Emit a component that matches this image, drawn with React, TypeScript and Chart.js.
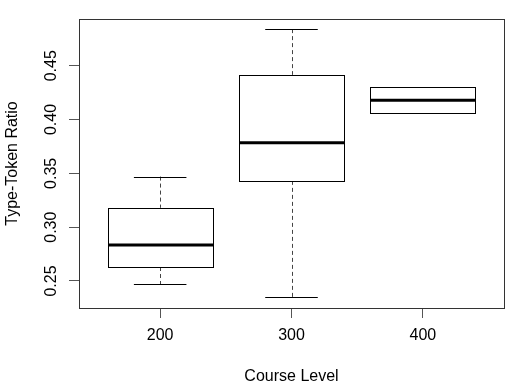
import React, { useEffect, useRef } from 'react';
import { Chart, registerables } from 'chart.js';

Chart.register(...registerables);

const categories = ['200', '300', '400'];
const whiskerLow = [0.247, 0.235, 0.406];
const q1 = [0.263, 0.343, 0.406];
const median = [0.2835, 0.3785, 0.418];
const q3 = [0.318, 0.4415, 0.430];
const whiskerHigh = [0.347, 0.484, 0.430];
const yTicks = [0.25, 0.3, 0.35, 0.4, 0.45];
const xTitle = 'Course Level';
const yTitle = 'Type-Token Ratio';

const FONT = '"Liberation Sans", Arial, Helvetica, sans-serif';

const boxPlugin = {
  id: 'rbox',
  afterDatasetsDraw(chart: any) {
    const ctx = chart.ctx;
    const xs = chart.scales.x;
    const ys = chart.scales.y;
    const area = chart.chartArea;
    ctx.save();
    // frame
    ctx.strokeStyle = '#333';
    ctx.lineWidth = 1;
    ctx.strokeRect(Math.round(area.left) + 0.5, Math.round(area.top) + 0.5, Math.round(area.right - area.left), Math.round(area.bottom - area.top));

    categories.forEach((_, i) => {
      const cx = xs.getPixelForValue(i + 1);
      const half = xs.getPixelForValue(i + 1.4) - cx;
      const capHalf = xs.getPixelForValue(i + 1.2) - cx;
      const yq1 = ys.getPixelForValue(q1[i]);
      const yq3 = ys.getPixelForValue(q3[i]);
      const ymed = ys.getPixelForValue(median[i]);
      const ylo = ys.getPixelForValue(whiskerLow[i]);
      const yhi = ys.getPixelForValue(whiskerHigh[i]);
      const px = Math.round(cx) + 0.5;

      // whiskers (dashed)
      ctx.strokeStyle = '#444';
      ctx.lineWidth = 1;
      ctx.setLineDash([4, 3]);
      if (whiskerHigh[i] > q3[i]) {
        ctx.beginPath();
        ctx.moveTo(px, yhi);
        ctx.lineTo(px, yq3);
        ctx.stroke();
      }
      if (whiskerLow[i] < q1[i]) {
        ctx.beginPath();
        ctx.moveTo(px, yq1);
        ctx.lineTo(px, ylo);
        ctx.stroke();
      }
      ctx.setLineDash([]);
      // caps
      ctx.strokeStyle = '#000';
      ctx.beginPath();
      ctx.moveTo(cx - capHalf, Math.round(yhi) + 0.5);
      ctx.lineTo(cx + capHalf, Math.round(yhi) + 0.5);
      ctx.moveTo(cx - capHalf, Math.round(ylo) + 0.5);
      ctx.lineTo(cx + capHalf, Math.round(ylo) + 0.5);
      ctx.stroke();
      // box
      ctx.fillStyle = '#fff';
      const bx = Math.round(cx - half) + 0.5;
      const bw = Math.round(2 * half);
      const by = Math.round(yq3) + 0.5;
      const bh = Math.round(yq1 - yq3);
      ctx.fillRect(bx, by, bw, bh);
      ctx.strokeRect(bx, by, bw, bh);
      // median
      ctx.lineWidth = 3;
      ctx.beginPath();
      ctx.moveTo(bx, ymed);
      ctx.lineTo(bx + bw, ymed);
      ctx.stroke();
    });

    // y tick labels (rotated as in R)
    ctx.fillStyle = '#000';
    ctx.font = '16px ' + FONT;
    ctx.textAlign = 'center';
    ctx.textBaseline = 'middle';
    yTicks.forEach((v) => {
      const py = ys.getPixelForValue(v);
      ctx.save();
      ctx.translate(52, py);
      ctx.rotate(-Math.PI / 2);
      ctx.fillText(v.toFixed(2), 0, 0);
      ctx.restore();
    });

    // axis titles
    const midY = (area.top + area.bottom) / 2;
    const midX = (area.left + area.right) / 2;
    ctx.save();
    ctx.translate(13, midY);
    ctx.rotate(-Math.PI / 2);
    ctx.fillText(yTitle, 0, 0);
    ctx.restore();
    ctx.fillText(xTitle, midX, 377);
    ctx.restore();
  },
};

export default function App() {
  const ref = useRef<HTMLCanvasElement>(null);
  useEffect(() => {
    if (!ref.current) return;
    const chart = new Chart(ref.current, {
      type: 'scatter',
      data: {
        datasets: [
          {
            data: median.map((m, i) => ({ x: i + 1, y: m })),
            pointRadius: 0,
            showLine: false,
          },
        ],
      },
      options: {
        animation: false,
        responsive: false,
        devicePixelRatio: 1,
        layout: { padding: { top: 19, right: 15, left: 0, bottom: 0 } },
        plugins: { legend: { display: false }, tooltip: { enabled: false } },
        scales: {
          x: {
            type: 'linear',
            min: 0.382,
            max: 3.618,
            afterBuildTicks: (s: any) => {
              s.ticks = categories.map((_, i) => ({ value: i + 1 }));
            },
            afterFit: (s: any) => {
              s.height = 82;
            },
            ticks: {
              callback: (v: any) => categories[Number(v) - 1] ?? '',
              color: '#000',
              font: { size: 16, family: FONT },
              padding: 8,
              maxRotation: 0,
              minRotation: 0,
            },
            grid: { drawOnChartArea: false, drawTicks: true, tickLength: 10, color: '#555', lineWidth: 1 },
            border: { display: false },
          },
          y: {
            type: 'linear',
            min: 0.2249,
            max: 0.4934,
            afterBuildTicks: (s: any) => {
              s.ticks = yTicks.map((v) => ({ value: v }));
            },
            afterFit: (s: any) => {
              s.width = 79;
            },
            ticks: { display: false },
            grid: { drawOnChartArea: false, drawTicks: true, tickLength: 10, color: '#555', lineWidth: 1 },
            border: { display: false },
          },
        },
      },
      plugins: [boxPlugin],
    });
    return () => chart.destroy();
  }, []);
  return (
    <div style={{ position: 'fixed', left: 0, top: 0, width: 519, height: 390, background: '#fff' }}>
      <canvas ref={ref} width={519} height={390} />
    </div>
  );
}
